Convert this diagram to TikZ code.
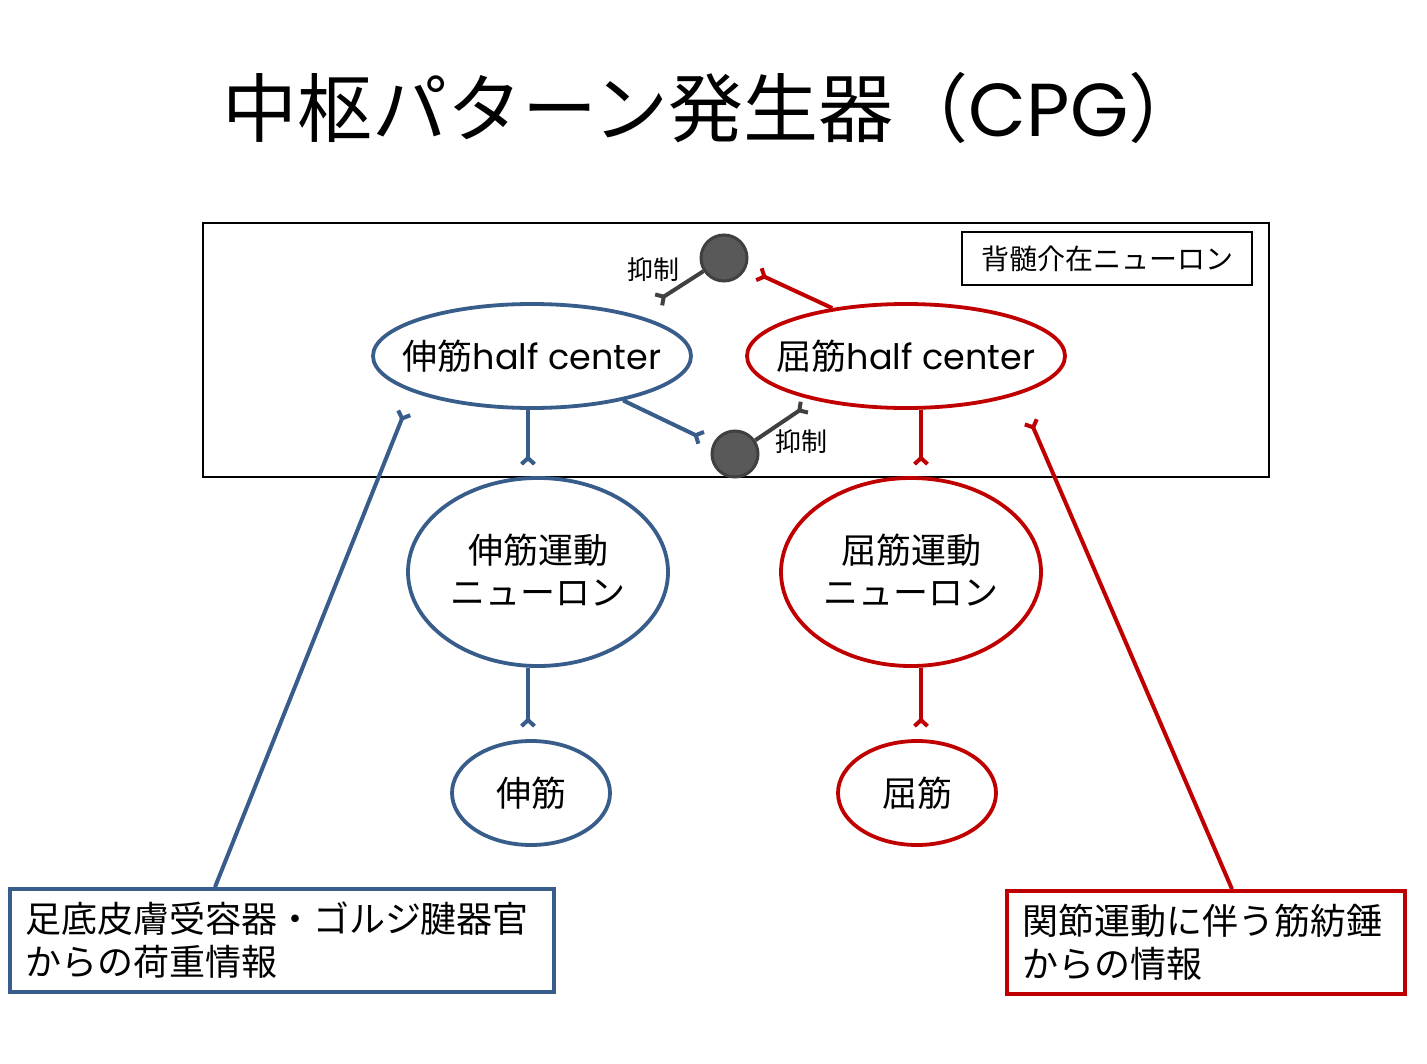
\documentclass[tikz,border=0pt]{standalone}
\usepackage{fontspec}
\setmainfont{Noto Sans CJK JP}
\newfontfamily\latinfont{Poppins}
\usetikzlibrary{shapes.geometric,arrows.meta}
\definecolor{cblue}{RGB}{56,93,138}
\definecolor{cred}{RGB}{192,0,0}
\definecolor{cgray}{RGB}{64,64,64}
\definecolor{cfill}{RGB}{89,89,89}
\newcommand{\myfs}[2]{\fontsize{#1}{#2}\selectfont}
\begin{document}
\begin{tikzpicture}[x=1pt,y=-1pt,
  syn/.style={-{Straight Barb[reversed,length=6pt,width=13pt]}},
  bline/.style={draw=cblue,line width=4pt},
  rline/.style={draw=cred,line width=4pt},
  gline/.style={draw=cgray,line width=4pt},
  bell/.style={ellipse,draw=cblue,line width=3.8pt,inner sep=0pt},
  rell/.style={ellipse,draw=cred,line width=3.8pt,inner sep=0pt},
  inhib/.style={circle,fill=cfill,draw=cgray,line width=3pt,minimum size=46pt,inner sep=0pt},
  txt/.style={font=\myfs{35}{42},align=center,inner sep=0pt},
  infobox/.style={line width=3.8pt,minimum height=103pt,inner xsep=15pt,align=left,font=\myfs{36}{43}}
]
\fill[white] (0,0) rectangle (1427,1063);
\useasboundingbox (0,0) rectangle (1427,1063);

% title
\node[font=\myfs{75}{88}] (title) at (713,108) {中枢パターン発生器（{\latinfont CPG}）};

% spinal cord box
\node[draw,line width=2.4pt,minimum width=1066pt,minimum height=254pt,inner sep=0pt] (spinal) at (736,350) {};
\node[draw,line width=2.2pt,minimum width=290pt,minimum height=53pt,inner sep=0pt,font=\myfs{28}{32}] (lbl) at (1107,258.5) {背髄介在ニューロン};

% half centers
\node[bell,minimum width=318pt,minimum height=104pt,label={[txt]center:伸筋{\latinfont half center}}] (hcE) at (532,356) {};
\node[rell,minimum width=318pt,minimum height=104pt,label={[txt]center:屈筋{\latinfont half center}}] (hcF) at (906,356) {};

% motor neurons
\node[bell,minimum width=260pt,minimum height=188pt,label={[txt,yshift=2pt]center:伸筋運動\\ニューロン}] (mnE) at (538,572) {};
\node[rell,minimum width=260pt,minimum height=188pt,label={[txt,yshift=2pt]center:屈筋運動\\ニューロン}] (mnF) at (911,572) {};

% muscles
\node[bell,minimum width=158pt,minimum height=104pt,label={[txt]center:伸筋}] (mE) at (531,793) {};
\node[rell,minimum width=158pt,minimum height=104pt,label={[txt]center:屈筋}] (mF) at (917,793) {};

% info boxes
\node[infobox,draw=cblue,text width=514pt] (inE) at (282,940.5) {足底皮膚受容器・ゴルジ腱器官\\からの荷重情報};
\node[infobox,draw=cred,text width=368pt] (inF) at (1206,942.5) {関節運動に伴う筋紡錘\\からの情報};

% inhibitory interneurons
\node[inhib] (inh1) at (724,258) {};
\node[inhib] (inh2) at (735,454) {};

% free ends
\coordinate (f1) at (657,301);
\coordinate (f2) at (806,406);
\coordinate (sE) at (405,411);
\coordinate (sF) at (1030,420);

% connectors
\draw[bline,syn,shorten >=10pt] ([xshift=-4pt]hcE.south) -- ([xshift=-4pt]hcE.south |- mnE.north);
\draw[bline,syn,shorten >=11pt] ([xshift=-10pt]mnE.south) -- ([xshift=-10pt]mnE.south |- mE.north);
\draw[rline,syn,shorten >=10pt] ([xshift=15pt]hcF.south) -- ([xshift=15pt]hcF.south |- mnF.north);
\draw[rline,syn,shorten >=11pt] ([xshift=10pt]mnF.south) -- ([xshift=10pt]mnF.south |- mF.north);

\draw[bline,syn] ([xshift=-67pt]inE.north) -- (sE);
\draw[rline,syn] ([xshift=26pt]inF.north) -- (sF);

\draw[rline,syn,shorten >=12pt] (hcF.147) -- (inh1);
\draw[bline,syn,shorten >=11pt] (hcE.-26) -- (inh2);

\draw[gline,syn] (inh1) -- (f1);
\draw[gline,syn] (inh2) -- (f2);

\node[font=\myfs{26}{30},inner sep=0pt] (lab1) at (653,270) {抑制};
\node[font=\myfs{26}{30},inner sep=0pt] (lab2) at (801,442) {抑制};
\end{tikzpicture}
\end{document}
